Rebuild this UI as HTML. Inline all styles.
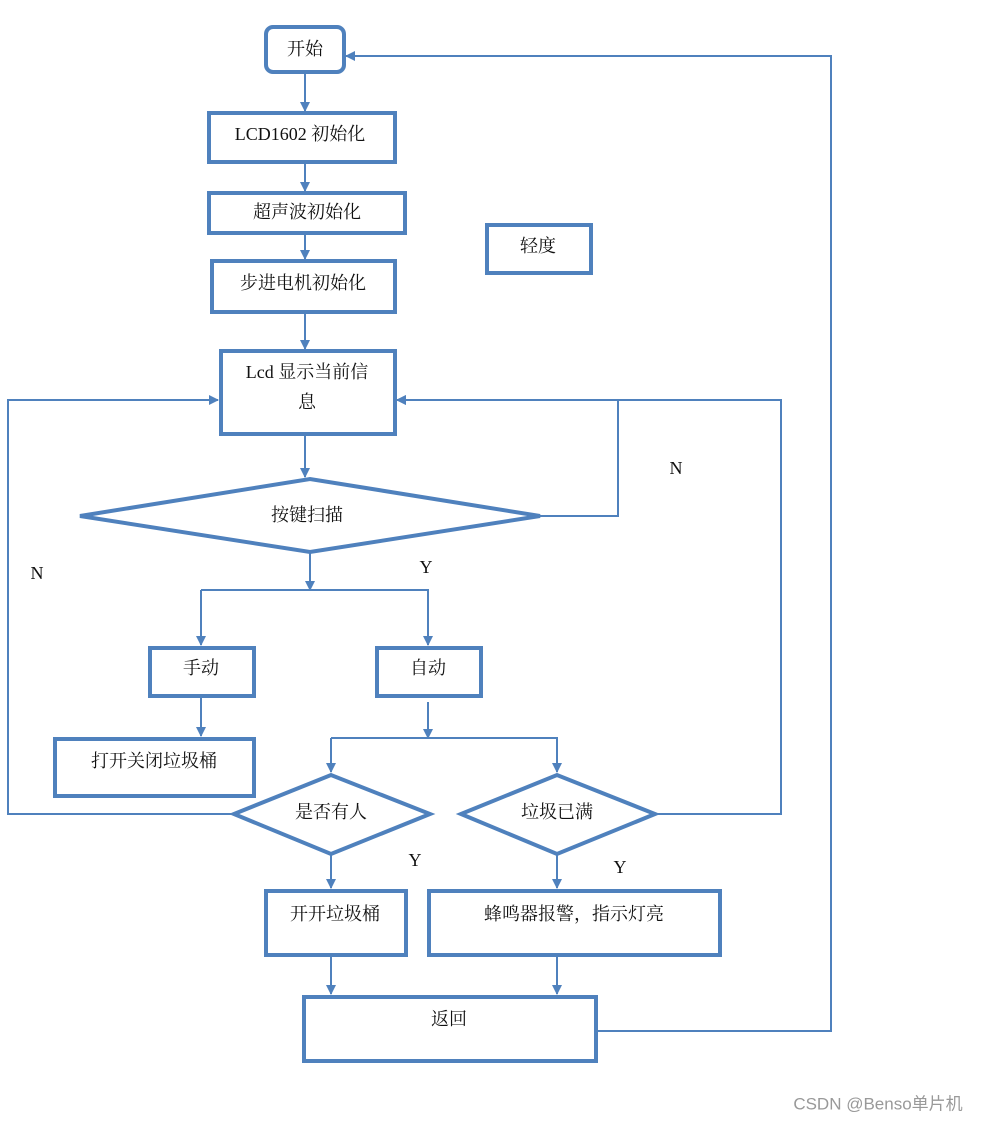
<!DOCTYPE html>
<html><head><meta charset="utf-8"><style>
body{margin:0;background:#fff}
svg text{font-family:"Liberation Serif","Noto Serif CJK SC",serif;font-size:18px;fill:#111;text-anchor:middle;dominant-baseline:middle}
</style></head><body>
<svg width="987" height="1123" viewBox="0 0 987 1123" xmlns="http://www.w3.org/2000/svg">
<defs><marker id="a" markerWidth="10" markerHeight="10" refX="9" refY="5" orient="auto" markerUnits="userSpaceOnUse"><path d="M0,0 L10,5 L0,10 z" fill="#4f81bd"/></marker></defs>
<g fill="none" stroke="#4f81bd" stroke-width="2" marker-end="url(#a)">
<path d="M305 72V111"/><path d="M305 162V191"/><path d="M305 233V259"/><path d="M305 312V349"/><path d="M305 434V477"/>
<path d="M540 516H618V400H397"/>
<path d="M310 552V590"/><path d="M201 590H428V645" marker-end="url(#a)"/><path d="M201 590V645"/>
<path d="M201 696V736"/><path d="M428 702V738"/><path d="M331 738H557V772"/><path d="M331 738V772"/>
<path d="M232 814H8V400H218"/><path d="M655 814H781V400H397"/>
<path d="M331 854V888"/><path d="M557 854V888"/>
<path d="M331 955V994"/><path d="M557 955V994"/>
<path d="M596 1031H831V56H346"/>
</g>
<g fill="#fff" stroke="#4f81bd" stroke-width="4">
<rect x="266" y="27" width="78" height="45" rx="7"/>
<rect x="209" y="113" width="186" height="49"/>
<rect x="209" y="193" width="196" height="40"/>
<rect x="212" y="261" width="183" height="51"/>
<rect x="221" y="351" width="174" height="83"/>
<rect x="487" y="225" width="104" height="48"/>
<path d="M80 516L310 479L540 516L310 552Z"/>
<rect x="150" y="648" width="104" height="48"/>
<rect x="377" y="648" width="104" height="48"/>
<rect x="55" y="739" width="199" height="57"/>
<path d="M234 814L331 775L430 814L331 854Z"/>
<path d="M461 814L557 775L655 814L557 854Z"/>
<rect x="266" y="891" width="140" height="64"/>
<rect x="429" y="891" width="291" height="64"/>
<rect x="304" y="997" width="292" height="64"/>
</g>
<text x="305" y="51">开始</text>
<text x="300" y="136">LCD1602 初始化</text>
<text x="307" y="214">超声波初始化</text>
<text x="303" y="285">步进电机初始化</text>
<text x="307" y="374">Lcd 显示当前信</text>
<text x="307" y="404">息</text>
<text x="538" y="248">轻度</text>
<text x="307" y="517">按键扫描</text>
<text x="676" y="470">N</text>
<text x="37" y="575">N</text>
<text x="426" y="569">Y</text>
<text x="201" y="670">手动</text>
<text x="428" y="670">自动</text>
<text x="154" y="763">打开关闭垃圾桶</text>
<text x="331" y="814">是否有人</text>
<text x="557" y="814">垃圾已满</text>
<text x="415" y="862">Y</text>
<text x="620" y="869">Y</text>
<text x="335" y="916">开开垃圾桶</text>
<text x="574" y="916">蜂鸣器报警，指示灯亮</text>
<text x="449" y="1021">返回</text>
<text x="878" y="1105" style="font-family:'Liberation Sans','Noto Sans CJK SC',sans-serif;font-size:17px;fill:#999">CSDN @Benso单片机</text>
</svg>
</body></html>
